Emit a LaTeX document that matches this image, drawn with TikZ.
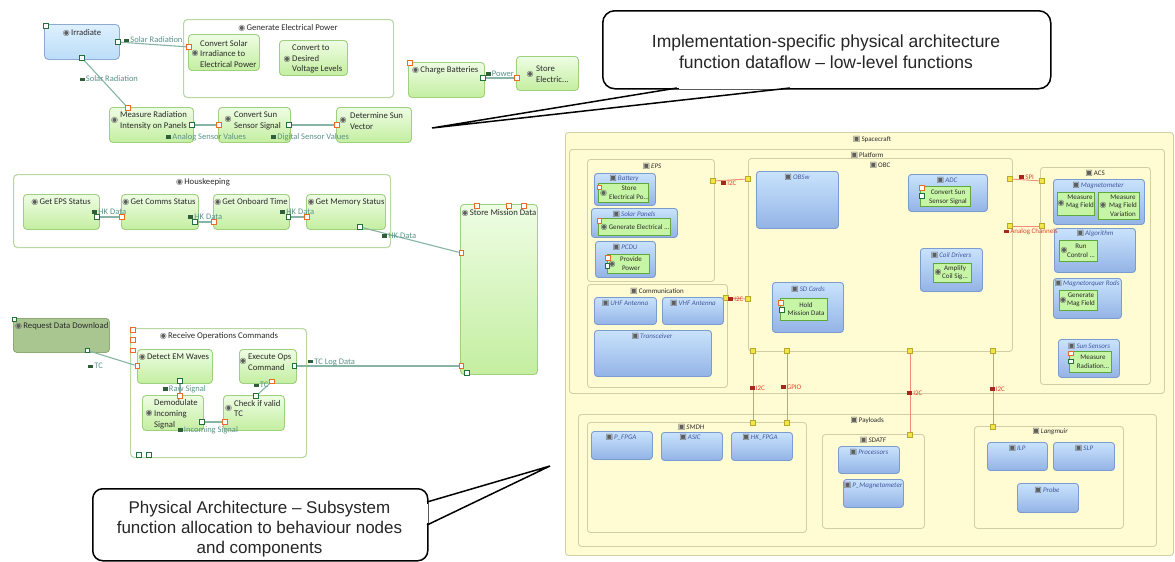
\documentclass[tikz,border=0pt]{standalone}
\usepackage{fontspec}
\setmainfont{Carlito}
\newfontfamily\callfont{Liberation Sans}
\newfontfamily\iconfont{DejaVu Sans}

\definecolor{fnTop}{HTML}{EEFDE4}
\definecolor{fnBot}{HTML}{C4EEA0}
\definecolor{fnBorder}{HTML}{9FD07E}
\definecolor{contBorder}{HTML}{B8D8A4}
\definecolor{irrTop}{HTML}{DDF0FE}
\definecolor{irrBot}{HTML}{BBDDF8}
\definecolor{irrBorder}{HTML}{8DA9D6}
\definecolor{rqFill}{HTML}{A9C590}
\definecolor{rqBorder}{HTML}{8EAA76}
\definecolor{ylFill}{HTML}{FFFBD3}
\definecolor{ylBorder}{HTML}{D2CEA6}
\definecolor{cmpTop}{HTML}{C9E3FC}
\definecolor{cmpBot}{HTML}{93B3E6}
\definecolor{cmpBorder}{HTML}{7C9BD0}
\definecolor{inFill}{HTML}{C6F5A6}
\definecolor{inBorder}{HTML}{5FA83E}
\definecolor{flowLine}{HTML}{86B5A6}
\definecolor{flowText}{HTML}{5B9288}
\definecolor{flowIcon}{HTML}{2F5F3A}
\definecolor{phyLine}{HTML}{F28C78}
\definecolor{phyText}{HTML}{E2452F}
\definecolor{phyIcon}{HTML}{A8261C}
\definecolor{portOr}{HTML}{EB6A25}
\definecolor{portGr}{HTML}{23703C}
\definecolor{portYl}{HTML}{F3E548}
\definecolor{portYlB}{HTML}{B9A92A}
\definecolor{iconGray}{HTML}{5E5E5E}
\definecolor{cmpTitle}{HTML}{4257A0}
\definecolor{txtDark}{HTML}{2B2B2B}

% function icon, component icon, exchange icon
\newcommand\fic{{\iconfont\fontsize{8}{8}\selectfont\textcolor{iconGray}{◉}}\hspace{1.2pt}}
\newcommand\cic{{\iconfont\fontsize{8}{8}\selectfont\textcolor{iconGray}{▣}}\hspace{1pt}}
\newcommand\eic[1]{\textcolor{#1}{\rule[0.15ex]{5pt}{3.6pt}}\hspace{1.2pt}}
% box: name, left, top, width, height, style
\newcommand\bx[6]{\node[#6, anchor=north west, minimum width=#4pt, minimum height=#5pt] (#1) at (#2,#3) {};}

\tikzset{
  fnbox/.style={draw=fnBorder, line width=0.9pt, rounded corners=3.5pt, top color=fnTop, bottom color=fnBot, inner sep=0pt},
  fcont/.style={draw=contBorder, line width=1.1pt, rounded corners=4pt, fill=white, inner sep=0pt},
  irrbox/.style={draw=irrBorder, line width=0.9pt, rounded corners=4pt, top color=irrTop, bottom color=irrBot, inner sep=0pt},
  rqbox/.style={draw=rqBorder, line width=0.9pt, rounded corners=3.5pt, fill=rqFill, inner sep=0pt},
  ylbox/.style={draw=ylBorder, line width=0.9pt, rounded corners=3pt, fill=ylFill, inner sep=0pt},
  cmpbox/.style={draw=cmpBorder, line width=0.9pt, rounded corners=3pt, top color=cmpTop, bottom color=cmpBot, inner sep=0pt},
  inbox/.style={draw=inBorder, line width=0.6pt, fill=inFill, inner sep=0pt},
  txt/.style={font=\fontsize{8.7}{10.8}\selectfont, text=txtDark, inner sep=0pt},
  txtl/.style={txt, align=left, anchor=west},
  ic/.style={font=\iconfont\fontsize{8}{8}\selectfont, text=iconGray, inner sep=0pt},
  flab/.style={font=\fontsize{8.5}{9}\selectfont, text=flowText, inner sep=0pt, anchor=west},
  flow/.style={draw=flowLine, line width=1.1pt},
  phys/.style={draw=phyLine, line width=0.9pt},
  plab/.style={font=\fontsize{7}{8}\selectfont, text=phyText, inner sep=0pt, anchor=west},
  ctitle/.style={font=\fontsize{7}{8}\selectfont, text=txtDark, inner sep=0pt},
  ctitleit/.style={font=\fontsize{7}{8}\selectfont\itshape, text=txtDark, inner sep=0pt},
  cmptitle/.style={font=\fontsize{7}{8}\selectfont\itshape, text=cmpTitle, inner sep=0pt},
  intxt/.style={font=\fontsize{7}{8.6}\selectfont, text=txtDark, inner sep=0pt, align=center},
  po/.style={draw=portOr, fill=white, line width=1.1pt, minimum size=4.6pt, inner sep=0pt},
  pg/.style={draw=portGr, fill=white, line width=1.1pt, minimum size=4.6pt, inner sep=0pt},
  py/.style={draw=portYlB, fill=portYl, line width=0.5pt, minimum size=4.8pt, inner sep=0pt},
  callbox/.style={draw=black, line width=1.5pt, rounded corners=12pt, fill=white, inner sep=0pt},
  calltxt/.style={font=\callfont\fontsize{17.5}{21}\selectfont, align=center, inner sep=0pt, text=black!85},
  callline/.style={draw=black, line width=1.5pt, line join=miter}
}

\begin{document}
\begin{tikzpicture}[x=1pt,y=-1pt]
\useasboundingbox (0,0) rectangle (1175,562);
\fill[white] (0,0) rectangle (1175,562);

% ================= physical architecture =================
\bx{sc}{565}{132}{608}{423}{ylbox}
\node[ctitle] (sc-t) at (872,139) {\cic Spacecraft};
\bx{plat}{569}{149}{595}{244}{ylbox}
\node[ctitle] (plat-t) at (867,155) {\cic Platform};

% EPS
\bx{eps}{587}{159}{127}{122}{ylbox}
\node[ctitleit] (eps-t) at (652,166) {\cic EPS};
\bx{bat}{594}{173}{61}{32}{cmpbox}
\node[cmptitle] (bat-t) at (624,178) {\cic Battery};
\bx{bat-f}{598}{183}{50}{19}{inbox}
\node[ic] (bat-fi) at (603.5,193) {◉};
\node[intxt] (bat-ft) at (629,192.5) {Store\\Electrical Po...};
\bx{sol}{591}{208}{86}{29}{cmpbox}
\node[cmptitle] (sol-t) at (634,214) {\cic Solar Panels};
\bx{sol-f}{598}{218}{72}{17}{inbox}
\node[intxt] (sol-ft) at (635,227.5) {\fic Generate Electrical ...};
\bx{pcdu}{595}{241}{60}{36}{cmpbox}
\node[cmptitle] (pcdu-t) at (625,247) {\cic PCDU};
\bx{pcdu-f}{607}{254}{42}{19}{inbox}
\node[ic] (pcdu-fi) at (612,264) {◉};
\node[intxt] (pcdu-ft) at (631,263.5) {Provide\\Power};

% Communication
\bx{comm}{587}{284}{140}{103}{ylbox}
\node[ctitle] (comm-t) at (657,291) {\cic Communication};
\bx{uhf}{594}{297}{62}{27}{cmpbox}
\node[cmptitle] (uhf-t) at (625,303) {\cic UHF Antenna};
\bx{vhf}{662}{297}{61}{27}{cmpbox}
\node[cmptitle] (vhf-t) at (693,303) {\cic VHF Antenna};
\bx{trx}{594}{330}{117}{46}{cmpbox}
\node[cmptitle] (trx-t) at (652,336) {\cic Transceiver};

% OBC
\bx{obc}{748}{158}{264}{193}{ylbox}
\node[ctitle] (obc-t) at (880,165) {\cic OBC};
\bx{obsw}{756}{171}{82}{57}{cmpbox}
\node[cmptitle] (obsw-t) at (797,177) {\cic OBSw};
\bx{adc}{908}{174}{79}{37}{cmpbox}
\node[cmptitle] (adc-t) at (947,180) {\cic ADC};
\bx{adc-f}{920}{186}{50}{20}{inbox}
\node[intxt] (adc-ft) at (948,197.5) {Convert Sun\\Sensor Signal};
\bx{coil}{920}{248}{62}{43}{cmpbox}
\node[cmptitle] (coil-t) at (951,255) {\cic Coil Drivers};
\bx{coil-f}{933}{263}{38}{19}{inbox}
\node[ic] (coil-fi) at (938,272) {◉};
\node[intxt] (coil-ft) at (955,272.5) {Amplify\\Coil Sig...};
\bx{sd}{772}{282}{71}{50}{cmpbox}
\node[cmptitle] (sd-t) at (808,289) {\cic SD Cards};
\bx{sd-f}{780}{298}{47}{22}{inbox}
\node[intxt] (sd-ft) at (806,309) {Hold\\Mission Data};

% ACS
\bx{acs}{1040}{167}{110}{217}{ylbox}
\node[ctitle] (acs-t) at (1095,173) {\cic ACS};
\bx{mag}{1053}{179}{91}{45}{cmpbox}
\node[cmptitle] (mag-t) at (1098,186) {\cic Magnetometer};
\bx{mag-f1}{1057}{192}{37}{23}{inbox}
\node[ic] (mag-f1i) at (1061,203) {◉};
\node[intxt] (mag-f1t) at (1080,202) {Measure\\Mag Field};
\bx{mag-f2}{1098}{192}{41}{27}{inbox}
\node[ic] (mag-f2i) at (1103,205) {◉};
\node[intxt] (mag-f2t) at (1123,205.5) {Measure\\Mag Field\\Variation};
\bx{alg}{1054}{228}{81}{44}{cmpbox}
\node[cmptitle] (alg-t) at (1095,234) {\cic Algorithm};
\bx{alg-f}{1059}{240}{38}{21}{inbox}
\node[ic] (alg-fi) at (1064,250) {◉};
\node[intxt] (alg-ft) at (1081,251) {Run\\Control ...};
\bx{mtq}{1053}{278}{68}{40}{cmpbox}
\node[cmptitle] (mtq-t) at (1087,284) {\cic Magnetorquer Rods};
\bx{mtq-f}{1059}{290}{38}{20}{inbox}
\node[ic] (mtq-fi) at (1063,300) {◉};
\node[intxt] (mtq-ft) at (1081,300) {Generate\\Mag Field};
\bx{sun}{1058}{339}{61}{38}{cmpbox}
\node[cmptitle] (sun-t) at (1089,346) {\cic Sun Sensors};
\bx{sun-f}{1069}{351}{42}{21}{inbox}
\node[intxt] (sun-ft) at (1093,362) {Measure\\Radiation...};

% Payloads
\bx{pay}{578}{414}{578}{132}{ylbox}
\node[ctitle] (pay-t) at (867,420) {\cic Payloads};
\bx{smdh}{587}{422}{219}{110}{ylbox}
\node[ctitleit] (smdh-t) at (691,427) {\cic SMDH};
\bx{pfpga}{591}{431}{61}{28}{cmpbox}
\node[cmptitle] (pfpga-t) at (621,437) {\cic P\_FPGA};
\bx{asic}{661}{432}{61}{28}{cmpbox}
\node[cmptitle] (asic-t) at (690,437) {\cic ASIC};
\bx{hkf}{731}{432}{61}{28}{cmpbox}
\node[cmptitle] (hkf-t) at (760,437) {\cic HK\_FPGA};
\bx{sdatf}{822}{434}{102}{94}{ylbox}
\node[ctitleit] (sdatf-t) at (873,440) {\cic SDATF};
\bx{proc}{838}{446}{61}{27}{cmpbox}
\node[cmptitle] (proc-t) at (869,452) {\cic Processors};
\bx{pmag}{843}{479}{60}{28}{cmpbox}
\node[cmptitle] (pmag-t) at (873,486) {\cic P\_Magnetometer};
\bx{lang}{974}{426}{149}{102}{ylbox}
\node[ctitleit] (lang-t) at (1050,432) {\cic Langmuir};
\bx{ilp}{987}{442}{60}{28}{cmpbox}
\node[cmptitle] (ilp-t) at (1017,448) {\cic ILP};
\bx{slp}{1053}{442}{61}{28}{cmpbox}
\node[cmptitle] (slp-t) at (1084,448) {\cic SLP};
\bx{probe}{1017}{483}{61}{29}{cmpbox}
\node[cmptitle] (probe-t) at (1047,490) {\cic Probe};

% function ports inside components
\node[po] (bat-fp) at (599.5,187.5) {};
\node[po] (sol-fp) at (599.5,221) {};
\node[po] (pcdu-fpo) at (608,258) {};
\node[pg] (pcdu-fpg) at (607.5,266) {};
\node[po] (adc-fpo) at (922,188) {};
\node[pg] (adc-fpg) at (922,196) {};
\node[po] (sd-fpo) at (781,303) {};
\node[pg] (sd-fpg) at (782,310) {};
\node[po] (sun-fpo) at (1071,353.5) {};
\node[pg] (sun-fpg) at (1071,361.5) {};

% physical ports
\node[py] (eps-pr) at (713,181) {};
\node[py] (obc-pl1) at (748,179) {};
\node[py] (comm-pr) at (726,298) {};
\node[py] (obc-pl2) at (748,299) {};
\node[py] (obc-pr1) at (1010,179) {};
\node[py] (acs-pl1) at (1042,181) {};
\node[py] (obc-pr2) at (1010,226) {};
\node[py] (acs-pl2) at (1042,226) {};
\node[py] (obc-pb1) at (753,351) {};
\node[py] (obc-pb2) at (787,351) {};
\node[py] (obc-pb3) at (910,351) {};
\node[py] (obc-pb4) at (993,351) {};
\node[py] (smdh-pt1) at (753,423) {};
\node[py] (smdh-pt2) at (787,423) {};
\node[py] (sdatf-pt) at (910,435) {};
\node[py] (lang-pt) at (993,427) {};

% physical links
\draw[phys] (eps-pr) -- (obc-pl1);
\draw[phys] (comm-pr) -- (obc-pl2);
\draw[phys] (obc-pr1) -- (acs-pl1);
\draw[phys] (obc-pr2) -- (acs-pl2);
\draw[phys] (obc-pb1) -- (smdh-pt1);
\draw[phys] (obc-pb2) -- (smdh-pt2);
\draw[phys] (obc-pb3) -- (sdatf-pt);
\draw[phys] (obc-pb4) -- (lang-pt);

\node[plab] (pl-1) at (721,183) {\eic{phyIcon}I2C};
\node[plab] (pl-2) at (728,299) {\eic{phyIcon}I2C};
\node[plab] (pl-3) at (1019,177) {\eic{phyIcon}SPI};
\node[plab] (pl-4) at (1004,232) {\eic{phyIcon}Analog Channels};
\node[plab] (pl-5) at (749.5,388) {\eic{phyIcon}I2C};
\node[plab] (pl-6) at (780.5,387) {\eic{phyIcon}GPIO};
\node[plab] (pl-7) at (907,393) {\eic{phyIcon}I2C};
\node[plab] (pl-8) at (989.5,389) {\eic{phyIcon}I2C};

% ================= functional dataflow =================
% power generation chain
\bx{gep}{183}{19}{210}{78}{fcont}
\node[txt] (gep-t) at (288,28) {\fic Generate Electrical Power};
\bx{irr}{44}{24}{75}{35}{irrbox}
\node[txt] (irr-t) at (82,33) {\fic Irradiate};
\bx{csi}{188}{34}{71}{36}{fnbox}
\node[ic] (csi-i) at (195,53) {◉};
\node[txtl] (csi-t) at (200,54) {Convert Solar\\Irradiance to\\Electrical Power};
\bx{cdv}{279}{40}{68}{35}{fnbox}
\node[ic] (cdv-i) at (287,59) {◉};
\node[txtl] (cdv-t) at (292,59) {Convert to\\Desired\\Voltage Levels};
\bx{mri}{109}{107}{84}{35}{fnbox}
\node[ic] (mri-i) at (114.5,120) {◉};
\node[txtl] (mri-t) at (120,121) {Measure Radiation\\Intensity on Panels};
\bx{css}{218}{107}{72}{35}{fnbox}
\node[ic] (css-i) at (228,119) {◉};
\node[txtl] (css-t) at (234,121) {Convert Sun\\Sensor Signal};
\bx{dsv}{336}{107}{75}{35}{fnbox}
\node[ic] (dsv-i) at (343,120) {◉};
\node[txtl] (dsv-t) at (350,121) {Determine Sun\\Vector};
\bx{chb}{408}{62}{76}{35}{fnbox}
\node[txt, anchor=west] (chb-t) at (412,70) {\fic Charge Batteries};
\bx{sto}{516}{56}{62}{34}{fnbox}
\node[ic] (sto-i) at (530,74) {◉};
\node[txtl] (sto-t) at (536,74.5) {Store\\Electric...};

% housekeeping
\bx{hk}{13}{174}{377}{73}{fcont}
\node[txt] (hk-t) at (203,182) {\fic Houskeeping};
\bx{gEps}{23}{194}{76}{35}{fnbox}
\node[txt] (gEps-t) at (61,202) {\fic Get EPS Status};
\bx{gComms}{121}{194}{77}{35}{fnbox}
\node[txt] (gComms-t) at (159,202) {\fic Get Comms Status};
\bx{gTime}{213}{194}{76}{35}{fnbox}
\node[txt] (gTime-t) at (251,202) {\fic Get Onboard Time};
\bx{gMem}{306}{194}{79}{35}{fnbox}
\node[txt] (gMem-t) at (346,202) {\fic Get Memory Status};

% mission data store
\bx{smd}{460}{204}{77}{170}{fnbox}
\node[txt, anchor=west] (smd-t) at (461.5,213) {\fic Store Mission Data};

% telecommand handling
\bx{rdd}{13}{318}{96}{34}{rqbox}
\node[txt, anchor=west] (rdd-t) at (15,326) {\fic Request Data Download};
\bx{roc}{130}{328}{176}{129}{fcont}
\node[txt] (roc-t) at (219,336) {\fic Receive Operations Commands};
\bx{det}{137}{349}{75}{34}{fnbox}
\node[txt] (det-t) at (174,357) {\fic Detect EM Waves};
\bx{exe}{239}{349}{57}{34}{fnbox}
\node[ic] (exe-i) at (243,361) {◉};
\node[txtl] (exe-t) at (248,362.5) {Execute Ops\\Command};
\bx{dmd}{142}{395}{61}{35}{fnbox}
\node[ic] (dmd-i) at (149,413) {◉};
\node[txtl] (dmd-t) at (154,414) {Demodulate\\Incoming\\Signal};
\bx{chk}{223}{395}{61}{35}{fnbox}
\node[ic] (chk-i) at (228.5,408) {◉};
\node[txtl] (chk-t) at (234,408.5) {Check if valid\\TC};

% ports
\node[pg] (irr-p0) at (46,26) {};
\node[pg] (irr-pr) at (118,42) {};
\node[pg] (irr-pb) at (82,58) {};
\node[po] (csi-pl) at (189,47) {};
\node[po] (mri-pt) at (128,108) {};
\node[pg] (mri-pr) at (192,125) {};
\node[po] (css-pl) at (219,125) {};
\node[pg] (css-pr) at (289,125) {};
\node[po] (dsv-pl) at (337,125) {};
\node[po] (chb-p0) at (410,63) {};
\node[pg] (chb-pr) at (483,78) {};
\node[po] (sto-pl) at (517,78) {};
\node[pg] (gEps-pr) at (97,217) {};
\node[po] (gComms-pl) at (122,217) {};
\node[pg] (gComms-pr) at (195,222) {};
\node[po] (gTime-pl) at (214,222) {};
\node[pg] (gTime-pr) at (288.5,217) {};
\node[po] (gMem-pl) at (307,217) {};
\node[pg] (gMem-pb) at (360,227) {};
\node[po] (smd-pt1) at (477,206) {};
\node[po] (smd-pt2) at (509,206) {};
\node[po] (smd-pt3) at (524,206) {};
\node[po] (smd-pl1) at (461.5,253) {};
\node[po] (smd-pl2) at (461.5,366) {};
\node[pg] (smd-pb) at (467,373) {};
\node[pg] (rdd-p0) at (14.5,319.5) {};
\node[pg] (rdd-pb) at (87.5,350.5) {};
\node[po] (roc-pl1) at (133,330) {};
\node[po] (roc-pl2) at (133,340) {};
\node[po] (roc-pl3) at (133,350.5) {};
\node[pg] (roc-pb1) at (139,455) {};
\node[pg] (roc-pb2) at (149,455) {};
\node[po] (det-pl) at (137.5,366) {};
\node[pg] (det-pb) at (180,381) {};
\node[pg] (exe-pr) at (294.5,366) {};
\node[po] (exe-pb) at (272,381.5) {};
\node[po] (dmd-pt) at (180,396) {};
\node[pg] (dmd-pr) at (202,422) {};
\node[po] (chk-pl) at (225,422) {};
\node[pg] (chk-pt) at (256,396) {};

% functional exchanges
\draw[flow] (irr-pr) -- (csi-pl);
\draw[flow] (irr-pb) -- (mri-pt);
\draw[flow] (mri-pr) -- (css-pl);
\draw[flow] (css-pr) -- (dsv-pl);
\draw[flow] (chb-pr) -- (sto-pl);
\draw[flow] (gEps-pr) -- (gComms-pl);
\draw[flow] (gComms-pr) -- (gTime-pl);
\draw[flow] (gTime-pr) -- (gMem-pl);
\draw[flow] (gMem-pb) -- (smd-pl1);
\draw[flow] (rdd-pb) -- (det-pl);
\draw[flow] (det-pb) -- (dmd-pt);
\draw[flow] (dmd-pr) -- (chk-pl);
\draw[flow] (exe-pb) -- (chk-pt);
\draw[flow] (exe-pr) -- (smd-pl2);

\node[flab] (fl-1) at (124,40) {\eic{flowIcon}Solar Radiation};
\node[flab] (fl-2) at (79.5,79) {\eic{flowIcon}Solar Radiation};
\node[flab] (fl-3) at (166,137) {\eic{flowIcon}Analog Sensor Values};
\node[flab] (fl-4) at (271,137) {\eic{flowIcon}Digital Sensor Values};
\node[flab] (fl-5) at (485.5,73.5) {\eic{flowIcon}Power};
\node[flab] (fl-6) at (92,212) {\eic{flowIcon}HK Data};
\node[flab] (fl-7) at (188,217) {\eic{flowIcon}HK Data};
\node[flab] (fl-8) at (280,212) {\eic{flowIcon}HK Data};
\node[flab] (fl-9) at (382,236) {\eic{flowIcon}HK Data};
\node[flab] (fl-10) at (88,366) {\eic{flowIcon}TC};
\node[flab] (fl-11) at (162.5,389) {\eic{flowIcon}Raw Signal};
\node[flab] (fl-12) at (177.5,430) {\eic{flowIcon}Incoming Signal};
\node[flab] (fl-13) at (253.5,385) {\eic{flowIcon}TC};
\node[flab] (fl-14) at (308,362) {\eic{flowIcon}TC Log Data};

% ================= callouts =================
\node[callbox, anchor=north west, minimum width=448pt, minimum height=78pt] (c1) at (602,10) {};
\node[calltxt] (c1-t) at (826,51.5) {Implementation-specific physical architecture\\function dataflow – low-level functions};
\coordinate (c1-tip) at (432,128);
\coordinate (c1-a) at (677,88);
\coordinate (c1-b) at (790,88);
\draw[white, line width=2.6pt] (679,88) -- (788,88);
\draw[callline] (c1-a) -- (c1-tip) -- (c1-b);

\node[callbox, rounded corners=10pt, anchor=north west, minimum width=335pt, minimum height=72pt] (c2) at (92,488) {};
\node[calltxt, font=\callfont\fontsize{17}{20}\selectfont] (c2-t) at (259.5,529) {Physical Architecture – Subsystem\\function allocation to behaviour nodes\\and components};
\coordinate (c2-tip) at (550,466);
\coordinate (c2-a) at (427,502);
\coordinate (c2-b) at (427,525);
\draw[white, line width=2.6pt] (427,504) -- (427,523);
\draw[callline] (c2-a) -- (c2-tip) -- (c2-b);
\end{tikzpicture}
\end{document}
